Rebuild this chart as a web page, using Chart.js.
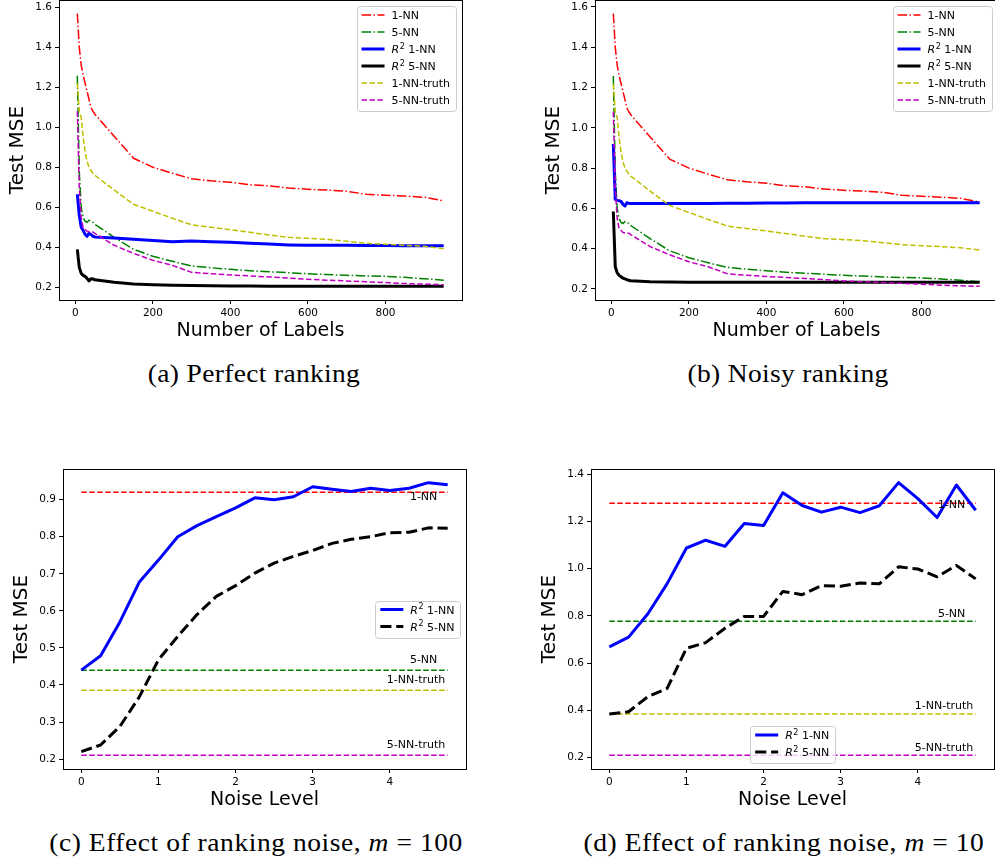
<!DOCTYPE html>
<html>
<head>
<meta charset="utf-8">
<script src="https://cdn.jsdelivr.net/npm/chart.js@4.4.1/dist/chart.umd.min.js"></script>
<style>
  html, body { margin: 0; padding: 0; width: 995px; height: 859px; overflow: hidden; background: #fff; }
  .panel { position: absolute; width: 480px; height: 348px; }
  .panel canvas { display: block; }
  .cap { position: absolute; font-family: "Liberation Serif", "Times New Roman", serif; font-size: 25px;
         line-height: 30px; color: #000; white-space: nowrap; transform: translateX(-50%) scaleX(1.1); letter-spacing: 0.3px; }
  .cap.wide { letter-spacing: 0.5px; }
</style>
</head>
<body>
<div class="panel" style="left:0px;top:-2px"><canvas id="perfect" width="480" height="348"></canvas></div>
<div class="panel" style="left:536px;top:-2px"><canvas id="noisy" width="480" height="348"></canvas></div>
<div class="panel" style="left:4px;top:467px"><canvas id="noiseM100" width="480" height="348"></canvas></div>
<div class="panel" style="left:532px;top:467px"><canvas id="noiseM10" width="480" height="348"></canvas></div>

<div class="cap" style="left:254px;top:359px">(a) Perfect ranking</div>
<div class="cap" style="left:788px;top:359px">(b) Noisy ranking</div>
<div class="cap wide" style="left:256px;top:828px">(c) Effect of ranking noise, <i>m</i> = 100</div>
<div class="cap wide" style="left:784px;top:828px">(d) Effect of ranking noise, <i>m</i> = 10</div>

<script>
// ---- data: number of labelled samples vs. test MSE ----
const labelCounts = [5, 10, 15, 20, 25, 30, 35, 40, 45, 50,
  100, 150, 200, 250, 300, 350, 400, 450, 500, 550, 600, 650, 700, 750, 800, 850, 900, 950];

const mse1NN = [1.567, 1.40, 1.31, 1.26, 1.22, 1.18, 1.14, 1.10, 1.08, 1.065,
  0.955, 0.845, 0.80, 0.77, 0.742, 0.732, 0.725, 0.712, 0.707, 0.696, 0.69, 0.686, 0.68, 0.665, 0.66, 0.656, 0.65, 0.632];
const mse5NN = [1.257, 0.78, 0.60, 0.55, 0.53, 0.525, 0.535, 0.53, 0.525, 0.515,
  0.45, 0.39, 0.355, 0.33, 0.307, 0.298, 0.29, 0.283, 0.278, 0.273, 0.268, 0.264, 0.26, 0.257, 0.255, 0.25, 0.243, 0.236];
const mse1NNTruth = [1.22, 1.08, 1.05, 0.95, 0.88, 0.83, 0.80, 0.785, 0.77, 0.76,
  0.686, 0.615, 0.58, 0.545, 0.512, 0.50, 0.488, 0.475, 0.462, 0.45, 0.445, 0.44, 0.43, 0.42, 0.415, 0.41, 0.405, 0.393];
const mse5NNTruth = [1.08, 0.70, 0.55, 0.50, 0.49, 0.48, 0.478, 0.477, 0.477, 0.47,
  0.41, 0.37, 0.335, 0.31, 0.275, 0.268, 0.262, 0.257, 0.252, 0.246, 0.24, 0.236, 0.232, 0.228, 0.224, 0.219, 0.216, 0.213];

const r2Perfect1NN = [0.665, 0.56, 0.50, 0.485, 0.465, 0.455, 0.47, 0.465, 0.455, 0.452,
  0.447, 0.44, 0.434, 0.428, 0.431, 0.428, 0.425, 0.42, 0.416, 0.412, 0.41, 0.41, 0.41, 0.409, 0.409, 0.408, 0.408, 0.408];
const r2Perfect5NN = [0.39, 0.30, 0.27, 0.26, 0.255, 0.245, 0.232, 0.243, 0.242, 0.238,
  0.225, 0.217, 0.213, 0.211, 0.209, 0.208, 0.207, 0.207, 0.206, 0.206, 0.206, 0.206, 0.206, 0.205, 0.205, 0.205, 0.205, 0.205];

const r2Noisy1NN = [0.92, 0.645, 0.64, 0.638, 0.635, 0.62, 0.612, 0.628, 0.625, 0.624,
  0.624, 0.624, 0.625, 0.625, 0.626, 0.626, 0.627, 0.627, 0.628, 0.628, 0.628, 0.628, 0.628, 0.628, 0.628, 0.628, 0.628, 0.628];
const r2Noisy5NN = [0.585, 0.31, 0.28, 0.268, 0.26, 0.254, 0.25, 0.246, 0.243, 0.241,
  0.236, 0.235, 0.234, 0.234, 0.234, 0.234, 0.234, 0.234, 0.234, 0.234, 0.234, 0.234, 0.234, 0.234, 0.234, 0.234, 0.234, 0.234];

// ---- data: ranking noise level vs. test MSE ----
const noiseLevels = [0, 0.25, 0.5, 0.75, 1, 1.25, 1.5, 1.75, 2, 2.25,
  2.5, 2.75, 3, 3.25, 3.5, 3.75, 4, 4.25, 4.5, 4.75];

const noiseR2_1NN_m100 = [0.44, 0.479, 0.57, 0.677, 0.737, 0.80, 0.83, 0.854, 0.878, 0.905,
  0.90, 0.908, 0.935, 0.928, 0.922, 0.931, 0.925, 0.931, 0.946, 0.94];
const noiseR2_5NN_m100 = [0.22, 0.238, 0.288, 0.367, 0.468, 0.531, 0.59, 0.639, 0.668, 0.702,
  0.729, 0.747, 0.763, 0.782, 0.793, 0.80, 0.811, 0.812, 0.824, 0.823];
const noiseR2_1NN_m10 = [0.669, 0.71, 0.809, 0.937, 1.088, 1.121, 1.095, 1.192, 1.183, 1.322,
  1.268, 1.24, 1.261, 1.238, 1.267, 1.365, 1.297, 1.217, 1.355, 1.248];
const noiseR2_5NN_m10 = [0.384, 0.394, 0.458, 0.493, 0.663, 0.687, 0.748, 0.798, 0.798, 0.904,
  0.89, 0.928, 0.926, 0.94, 0.936, 1.008, 0.999, 0.966, 1.014, 0.957];

const baselineNames = ['1-NN', '5-NN', '1-NN-truth', '5-NN-truth'];
const baselinesM100 = [0.92, 0.44, 0.386, 0.21];
const baselinesM10 = [1.278, 0.777, 0.384, 0.209];

// ---- tick labels ----
const labelTicks = [0, 200, 400, 600, 800];
const noiseTicks = [0, 1, 2, 3, 4];
const mseTicksTop = [0.2, 0.4, 0.6, 0.8, 1.0, 1.2, 1.4, 1.6];
const mseTicksM100 = [0.2, 0.3, 0.4, 0.5, 0.6, 0.7, 0.8, 0.9];
const mseTicksM10 = [0.2, 0.4, 0.6, 0.8, 1.0, 1.2, 1.4];

// ---- styling ----
const FONT = '"DejaVu Sans", Verdana, sans-serif';
const DASHDOT = [9.6, 2.4, 1.5, 2.4];
const DASHED = [5.55, 2.4];
const STYLE = {
  '1-NN':        { borderColor: '#ff0000', borderWidth: 1.5, borderDash: DASHDOT },
  '5-NN':        { borderColor: '#008000', borderWidth: 1.5, borderDash: DASHDOT },
  'R² 1-NN':     { borderColor: '#0000ff', borderWidth: 3,   borderDash: [] },
  'R² 5-NN':     { borderColor: '#000000', borderWidth: 3,   borderDash: [] },
  '1-NN-truth':  { borderColor: '#bfbf00', borderWidth: 1.5, borderDash: DASHED },
  '5-NN-truth':  { borderColor: '#bf00bf', borderWidth: 1.5, borderDash: DASHED },
};
const HLINE_COLORS = { '1-NN': '#ff0000', '5-NN': '#008000', '1-NN-truth': '#bfbf00', '5-NN-truth': '#bf00bf' };

function paddedRange(arrays) {
  const all = arrays.flat();
  const lo = Math.min(...all), hi = Math.max(...all);
  const m = (hi - lo) * 0.05;
  return [lo - m, hi + m];
}

function series(label, xs, ys, extra) {
  return Object.assign({
    label,
    data: xs.map((x, i) => ({ x, y: ys[i] })),
    pointRadius: 0, tension: 0, fill: false,
    borderJoinStyle: 'round', borderCapStyle: 'butt',
  }, STYLE[label] || {}, extra || {});
}

function hline(label, xs, value) {
  return {
    label, legend: false,
    data: [{ x: xs[0], y: value }, { x: xs[xs.length - 1], y: value }],
    pointRadius: 0, fill: false, borderColor: HLINE_COLORS[label], borderWidth: 1.5, borderDash: DASHED,
    borderCapStyle: 'butt',
  };
}

function scales(xr, yr, xTicks, yTicks, xTitle, yDigits) {
  const tickFont = { family: FONT, size: 10.5 };
  const grid = { display: true, drawOnChartArea: false, drawTicks: true, tickLength: 4, color: '#000', lineWidth: 1 };
  return {
    x: {
      type: 'linear', min: xr[0], max: xr[1],
      grid, border: { display: false },
      ticks: { color: '#000', font: tickFont, padding: 3, maxRotation: 0, autoSkip: false },
      afterBuildTicks: a => { a.ticks = xTicks.map(v => ({ value: v })); },
      afterFit: a => { a.height = 46; a.paddingLeft = 0; a.paddingRight = 0; },
      title: { display: true, text: xTitle, color: '#000', font: { family: FONT, size: 19 }, padding: { top: 0, bottom: 4 } },
    },
    y: {
      type: 'linear', min: yr[0], max: yr[1],
      grid, border: { display: false },
      ticks: { color: '#000', font: tickFont, padding: 3, autoSkip: false, callback: v => v.toFixed(yDigits) },
      afterBuildTicks: a => { a.ticks = yTicks.map(v => ({ value: v })); },
      afterFit: a => { a.width = 59; a.paddingTop = 0; a.paddingBottom = 0; },
      title: { display: true, text: 'Test MSE', color: '#000', font: { family: FONT, size: 20 }, padding: { top: 6, bottom: 0 } },
    },
  };
}

// legend, frame and in-plot text labels, drawn the way matplotlib lays them out
const decor = {
  id: 'mplDecor',
  afterDraw(chart) {
    const spec = chart.config.options.decor || {};
    const { ctx, chartArea: a } = chart;
    const xs = chart.scales.x, ys = chart.scales.y;
    ctx.save();

    // text labels next to the reference lines
    (spec.notes || []).forEach(n => {
      ctx.font = `11px ${FONT}`;
      ctx.fillStyle = '#000';
      ctx.textAlign = 'left';
      ctx.textBaseline = 'alphabetic';
      ctx.fillText(n.text, xs.getPixelForValue(n.x), ys.getPixelForValue(n.y));
    });

    // axes frame
    ctx.strokeStyle = '#000';
    ctx.lineWidth = 1;
    ctx.setLineDash([]);
    ctx.strokeRect(Math.round(a.left) + 0.5, Math.round(a.top) + 0.5,
      Math.round(a.right) - Math.round(a.left), Math.round(a.bottom) - Math.round(a.top));

    // legend
    if (spec.legend) {
      const items = chart.data.datasets.filter(d => d.legend !== false);
      const pad = 5, handle = 23, gap = 7, row = 17;
      const widths = items.map(d => labelWidth(ctx, d.label));
      const w = pad + handle + gap + Math.max(...widths) + pad + 1;
      const h = 9 + (items.length - 1) * row + 11;
      let x, y;
      if (spec.legend === 'upper right') { x = a.right - 6 - w; y = a.top + 6; }
      else if (spec.legend === 'center right') { x = a.right - 6 - w; y = (a.top + a.bottom) / 2 - h / 2; }
      else { x = (a.left + a.right) / 2 - w / 2; y = a.bottom - 6 - h; }
      ctx.beginPath();
      ctx.roundRect(Math.round(x) + 0.5, Math.round(y) + 0.5, Math.round(w), Math.round(h), 3);
      ctx.fillStyle = 'rgba(255,255,255,0.8)';
      ctx.fill();
      ctx.strokeStyle = '#cccccc';
      ctx.lineWidth = 1;
      ctx.stroke();
      items.forEach((d, i) => {
        const cy = y + 9 + i * row;
        ctx.beginPath();
        ctx.setLineDash(d.borderDash || []);
        ctx.strokeStyle = d.borderColor;
        ctx.lineWidth = d.borderWidth;
        ctx.lineCap = 'butt';
        ctx.moveTo(x + pad, cy);
        ctx.lineTo(x + pad + handle, cy);
        ctx.stroke();
        ctx.setLineDash([]);
        drawLabel(ctx, d.label, x + pad + handle + gap, cy);
      });
    }
    ctx.restore();
  }
};

function labelWidth(ctx, label) {
  if (label.startsWith('R²')) {
    ctx.font = `italic 11px ${FONT}`;
    let w = ctx.measureText('R').width;
    ctx.font = `8px ${FONT}`;
    w += ctx.measureText('2').width;
    ctx.font = `11px ${FONT}`;
    return w + ctx.measureText(label.slice(2)).width;
  }
  ctx.font = `11px ${FONT}`;
  return ctx.measureText(label).width;
}

function drawLabel(ctx, label, x, cy) {
  ctx.fillStyle = '#000';
  ctx.textAlign = 'left';
  ctx.textBaseline = 'alphabetic';
  const base = cy + 4;
  if (label.startsWith('R²')) {
    ctx.font = `italic 11px ${FONT}`;
    ctx.fillText('R', x, base);
    x += ctx.measureText('R').width + 0.5;
    ctx.font = `8px ${FONT}`;
    ctx.fillText('2', x, base - 4.5);
    x += ctx.measureText('2').width;
    ctx.font = `11px ${FONT}`;
    ctx.fillText(label.slice(2), x, base);
  } else {
    ctx.font = `11px ${FONT}`;
    ctx.fillText(label, x, base);
  }
}

function build(id, datasets, xr, yr, xTicks, yTicks, xTitle, yDigits, decorSpec) {
  // later datasets sit on top, as in the plotting order
  datasets.forEach((d, i) => { d.order = -i; });
  return new Chart(document.getElementById(id), {
    type: 'line',
    data: { datasets },
    plugins: [decor],
    options: {
      responsive: false, animation: false, devicePixelRatio: 1,
      layout: { padding: { left: 0, right: 18, top: 2, bottom: 0 } },
      plugins: { legend: { display: false }, tooltip: { enabled: false } },
      scales: scales(xr, yr, xTicks, yTicks, xTitle, yDigits),
      decor: decorSpec,
    }
  });
}

// (a) perfect ranking
const perfectSeries = [mse1NN, mse5NN, r2Perfect1NN, r2Perfect5NN, mse1NNTruth, mse5NNTruth];
build('perfect', [
  series('1-NN', labelCounts, mse1NN),
  series('5-NN', labelCounts, mse5NN),
  series('R² 1-NN', labelCounts, r2Perfect1NN),
  series('R² 5-NN', labelCounts, r2Perfect5NN),
  series('1-NN-truth', labelCounts, mse1NNTruth),
  series('5-NN-truth', labelCounts, mse5NNTruth),
], paddedRange([labelCounts]), paddedRange(perfectSeries), labelTicks, mseTicksTop, 'Number of Labels', 1,
  { legend: 'upper right' });

// (b) noisy ranking
const noisySeries = [mse1NN, mse5NN, r2Noisy1NN, r2Noisy5NN, mse1NNTruth, mse5NNTruth];
build('noisy', [
  series('1-NN', labelCounts, mse1NN),
  series('5-NN', labelCounts, mse5NN),
  series('R² 1-NN', labelCounts, r2Noisy1NN),
  series('R² 5-NN', labelCounts, r2Noisy5NN),
  series('1-NN-truth', labelCounts, mse1NNTruth),
  series('5-NN-truth', labelCounts, mse5NNTruth),
], paddedRange([labelCounts]), paddedRange(noisySeries), labelTicks, mseTicksTop, 'Number of Labels', 1,
  { legend: 'upper right' });

// reference-line captions: just below the 1-NN line, just above the others
const noteX = [4.26, 4.26, 3.96, 3.96];
const noteShift = [-0.02, 0.02, 0.02, 0.02];
function notes(values) {
  return baselineNames.map((t, i) => ({ text: t, x: noteX[i], y: values[i] + noteShift[i] }));
}

// (c) noise sweep, m = 100
build('noiseM100', [
  ...baselineNames.map((n, i) => hline(n, noiseLevels, baselinesM100[i])),
  series('R² 1-NN', noiseLevels, noiseR2_1NN_m100),
  series('R² 5-NN', noiseLevels, noiseR2_5NN_m100, { borderDash: [11.1, 4.8] }),
], paddedRange([noiseLevels]), paddedRange([noiseR2_1NN_m100, noiseR2_5NN_m100, baselinesM100]),
  noiseTicks, mseTicksM100, 'Noise Level', 1,
  { legend: 'center right', notes: notes(baselinesM100) });

// (d) noise sweep, m = 10
build('noiseM10', [
  ...baselineNames.map((n, i) => hline(n, noiseLevels, baselinesM10[i])),
  series('R² 1-NN', noiseLevels, noiseR2_1NN_m10),
  series('R² 5-NN', noiseLevels, noiseR2_5NN_m10, { borderDash: [11.1, 4.8] }),
], paddedRange([noiseLevels]), paddedRange([noiseR2_1NN_m10, noiseR2_5NN_m10, baselinesM10]),
  noiseTicks, mseTicksM10, 'Noise Level', 1,
  { legend: 'lower center', notes: notes(baselinesM10) });
</script>
</body>
</html>
